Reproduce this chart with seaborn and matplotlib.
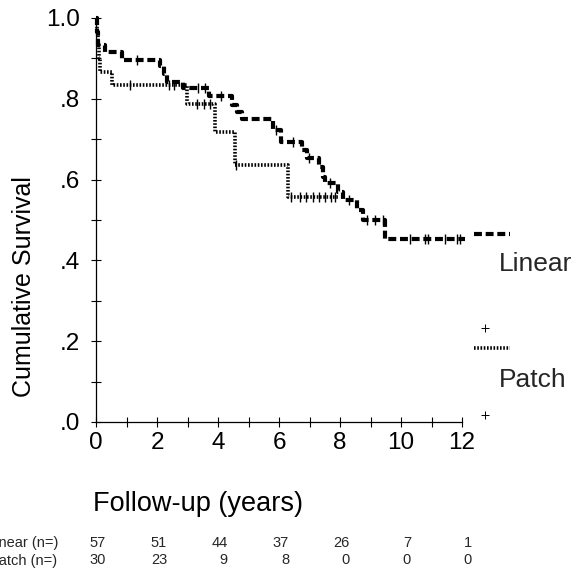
import numpy as np
import pandas as pd
import matplotlib
matplotlib.use("Agg")
import matplotlib.pyplot as plt
import matplotlib.transforms as mtransforms
from matplotlib import font_manager
import seaborn as sns

# ---------------- data ----------------
linear_time = [0.0, 0.02, 0.04, 0.06, 0.08, 0.30, 0.85, 2.10, 2.22, 2.33, 2.85, 3.70,
               4.45, 4.62, 4.78, 5.80, 6.08, 6.75, 6.92, 7.30, 7.45, 7.52, 7.93, 8.10,
               8.56, 8.75, 9.48, 12.10]
linear_surv = [1.0, 0.982, 0.965, 0.947, 0.933, 0.916, 0.896, 0.880, 0.862, 0.842, 0.827,
               0.807, 0.785, 0.767, 0.750, 0.723, 0.693, 0.673, 0.653, 0.631, 0.606, 0.592,
               0.569, 0.550, 0.525, 0.500, 0.453, 0.453]
linear_censor = [1.35, 3.35, 3.57, 4.10, 5.90, 6.46, 6.98, 7.67, 8.30, 8.90, 9.15, 9.40,
                 10.30, 10.80, 10.90, 11.45, 11.85, 11.95]

patch_time = [0.0, 0.03, 0.06, 0.09, 0.12, 0.52, 2.98, 3.90, 4.56, 6.30, 7.95]
patch_surv = [1.0, 0.967, 0.933, 0.900, 0.867, 0.833, 0.787, 0.718, 0.636, 0.556, 0.556]
patch_censor = [1.10, 2.40, 2.55, 3.30, 3.55, 3.75, 4.60, 6.40, 6.70, 6.90, 7.10, 7.30,
                7.50, 7.70, 7.85]

risk_times = [0, 2, 4, 6, 8, 10, 12]
linear_risk = [57, 51, 44, 37, 26, 7, 1]
patch_risk = [30, 23, 9, 8, 0, 0, 0]

group_names = ["Linear", "Patch"]
x_ticks = [0, 2, 4, 6, 8, 10, 12]
y_ticks = [0.0, 0.2, 0.4, 0.6, 0.8, 1.0]
y_tick_labels = [".0", ".2", ".4", ".6", ".8", "1.0"]

# ---------------- fonts ----------------
sns.set_theme(style="white")
names = {f.name for f in font_manager.fontManager.ttflist}
narrow = "Liberation Sans Narrow" if "Liberation Sans Narrow" in names else "Liberation Sans"
plt.rcParams["font.family"] = [narrow, "DejaVu Sans"]
table_font = ["Liberation Sans", "DejaVu Sans"]

fig = plt.figure(figsize=(5.76, 5.75), dpi=100)
ax = fig.add_axes([96 / 576, (575 - 422) / 575, 480 / 576, 404 / 575])


def step_value(times, surv, t):
    idx = np.searchsorted(np.asarray(times), t, side="right") - 1
    return np.asarray(surv)[idx]


lin_df = pd.DataFrame({"time": linear_time, "surv": linear_surv})
pat_df = pd.DataFrame({"time": patch_time, "surv": patch_surv})

sns.lineplot(data=lin_df, x="time", y="surv", ax=ax, estimator=None, sort=False,
             drawstyle="steps-post", color="black", linewidth=3.0,
             linestyle=(0, (1.9, 0.9)), clip_on=False)
sns.lineplot(data=pat_df, x="time", y="surv", ax=ax, estimator=None, sort=False,
             drawstyle="steps-post", color="black", linewidth=2.6,
             linestyle=(0, (0.45, 0.45)), clip_on=False)

lc = pd.DataFrame({"time": linear_censor,
                   "surv": [step_value(linear_time, linear_surv, t) for t in linear_censor]})
pc = pd.DataFrame({"time": patch_censor,
                   "surv": [step_value(patch_time, patch_surv, t) for t in patch_censor]})
sns.scatterplot(data=lc, x="time", y="surv", ax=ax, marker="|", s=45, color="black",
                linewidth=1.0, clip_on=False)
sns.scatterplot(data=pc, x="time", y="surv", ax=ax, marker="|", s=45, color="black",
                linewidth=1.0, clip_on=False)

# ---------------- legend (drawn manually, like the original) ----------------
ax.plot([12.39, 13.57], [0.465, 0.465], color="black", linewidth=3.0,
        linestyle=(0, (1.9, 0.9)), clip_on=False)
ax.plot([12.39, 13.57], [0.183, 0.183], color="black", linewidth=2.6,
        linestyle=(0, (0.45, 0.45)), clip_on=False)
ax.plot([12.75, 12.75], [0.233, 0.017], linestyle="none", marker="+", markersize=6,
        markeredgewidth=0.7, color="black", clip_on=False)
ax.text(13.2, 0.39, group_names[0], fontsize=19, va="center", ha="left")
ax.text(13.2, 0.104, group_names[1], fontsize=19, va="center", ha="left")

# ---------------- axes ----------------
ax.set_xlim(0, 480 / 30.5)
ax.set_ylim(0, 1.0)
for s in ["top", "right"]:
    ax.spines[s].set_visible(False)
for s in ["left", "bottom"]:
    ax.spines[s].set_color("black")
    ax.spines[s].set_linewidth(0.9)
ax.spines["bottom"].set_bounds(0, 12)
ax.spines["left"].set_bounds(0, 1.0)

ax.set_xticks(x_ticks)
ax.set_xticklabels([str(t) for t in x_ticks])
ax.set_xticks([1, 3, 5, 7, 9, 11], minor=True)
ax.set_yticks(y_ticks)
ax.set_yticklabels(y_tick_labels)
ax.set_yticks([0.1, 0.3, 0.5, 0.7, 0.9], minor=True)
ax.tick_params(axis="both", which="both", direction="inout", length=7, width=0.8,
               color="black", labelsize=17.5, labelcolor="black")
ax.tick_params(axis="x", which="both", bottom=True, pad=4)
ax.tick_params(axis="y", which="both", left=True, pad=8)
ax.grid(False)

ax.set_xlabel("Follow-up (years)", fontsize=19.5, color="black")
ax.xaxis.set_label_coords(0.2125, -0.172)
ax.set_ylabel("Cumulative Survival", fontsize=18, color="black")
ax.yaxis.set_label_coords(-0.125, 0.335)

# ---------------- number at risk ----------------
trans = mtransforms.blended_transform_factory(ax.transData, fig.transFigure)
off = mtransforms.ScaledTranslation(10 / 100, 0, fig.dpi_scale_trans)
y1 = 1 - 543 / 575
y2 = 1 - 560.5 / 575
for t, a, b in zip(risk_times, linear_risk, patch_risk):
    ax.text(t, y1, str(a), transform=trans + off, ha="right", va="center",
            fontsize=10.5, family=table_font, clip_on=False)
    ax.text(t, y2, str(b), transform=trans + off, ha="right", va="center",
            fontsize=10.5, family=table_font, clip_on=False)
fig.text(58 / 576, y1, "Linear (n=)", ha="right", va="center", fontsize=10.5,
         family=table_font)
fig.text(57 / 576, y2, "Patch (n=)", ha="right", va="center", fontsize=10.5,
         family=table_font)

fig.savefig("out.png", dpi=100, facecolor="white")
